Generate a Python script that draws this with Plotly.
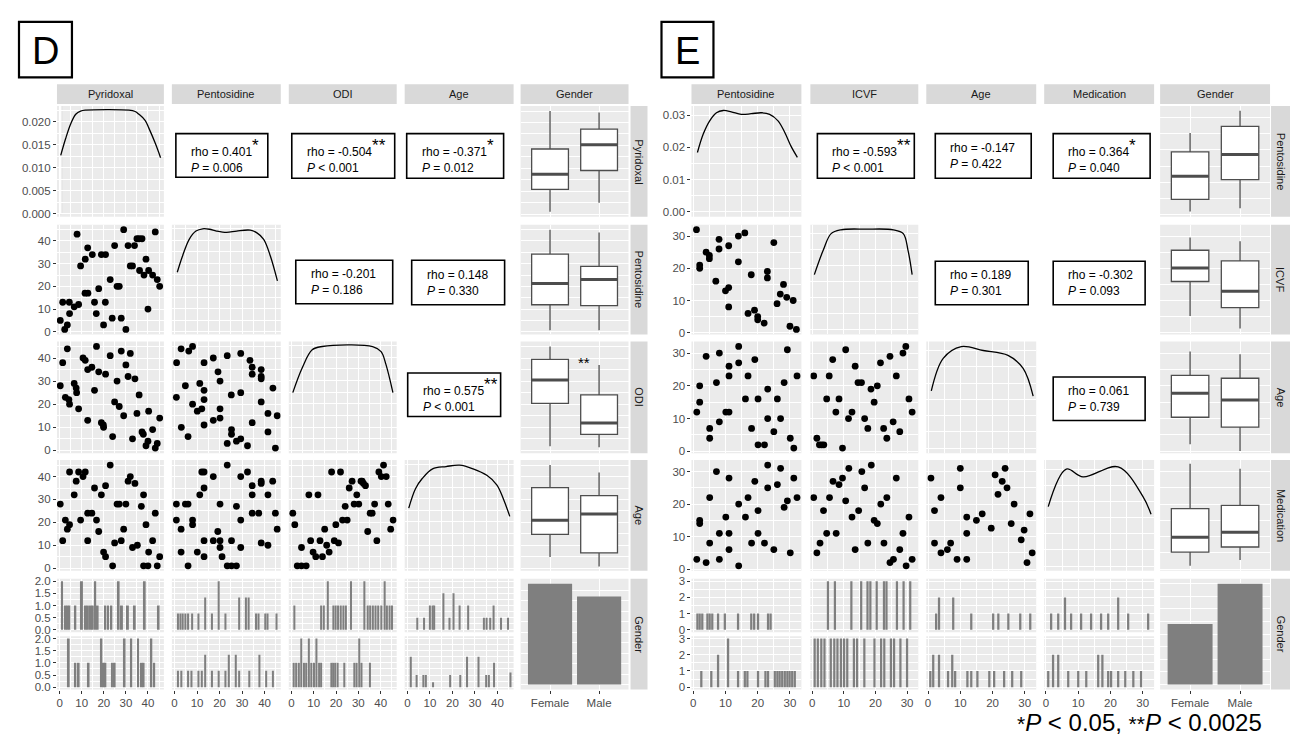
import plotly.graph_objects as go

# ======================= DATA =======================
genders = ["Female", "Male"]
d_vars = ["Pyridoxal", "Pentosidine", "ODI", "Age", "Gender"]
e_vars = ["Pentosidine", "ICVF", "Age", "Medication", "Gender"]

# ---- Panel D scatter data (ranks) ----
d_pyr_pent_x = [0.3,1.4,2.3,3.5,4.4,4.5,6.6,7.9,8.6,9.5,11.6,12.7,11.5,12.8,14.8,15.8,16.6,17.7,18.9,19.9,20.8,20.7,22.9,23.8,24.9,26,27,27.9,29,30,31,32,33,33.9,35,36,37.3,36.2,38.2,39.1,40,40.3,42.1,43.3,44.2,45.3]
d_pyr_pent_y = [5,13,1,3,13,8,11,43,12,29,32,37,17,17,34,13,8,19,34,3,34,13,23,6,38,20,20,6,45,1,38,29,29,38,41,41,41,27,25,32,10,27,25,44,23,20]
d_pyr_odi_x = [0.3,1.4,2.6,3.5,4.2,4.5,6.6,7.5,7.7,8.6,10.6,11.6,12.7,12.7,14.6,15.8,16.7,17.7,18.9,19.8,19.9,20.8,22.9,24,24.9,26,27,27.9,29,30,31,32,33,34.1,35,36,37.3,37.9,39.1,40,40.3,42.1,43.3,44.2,45.3]
d_pyr_odi_y = [28,38,23,44,22,20,29,27,25,18,40,39,35,13,36,26,45,34,12,11,10,33,41,6,21,30,19,43,15,37,32,42,5,31,16,24,8,7,2,4,17,9,1,3,14]
d_pyr_age_x = [0.3,1.4,2.6,3.5,4.5,4.5,6.6,7.5,8.6,9.5,10.6,11.6,12.7,12.7,14.6,15.8,16.7,17.7,18.9,19.9,20.8,20.8,22.9,24,24.9,26,27,27.9,29,30,31,32,33,34.1,35.2,37,38,39.1,40.3,38,40,42.1,43.3,44.2,45.3]
d_pyr_age_y = [28,12,21,17,19,42,32,38,42,21,40,42,24,12,24,35,21,16,32,7,5,36,45,1,11,28,28,12,17,28,38,40,9,37,10,27,32,19,7,1,1,12,24,1,5]
d_pent_odi_x = [0.8,0.9,2.9,6.3,8.0,3.0,4.8,6.0,8.0,10.1,11.2,12.1,13.1,13.1,13.1,13.1,17.2,17.2,20.2,20.2,20.2,19.3,23.4,23.4,25.3,25.3,27.5,29.4,25.2,29.4,29.4,32.4,33.5,34.5,34.5,34.5,38.5,38.5,38.5,38.5,41.5,41.5,43.7,44.8,45.6]
d_pent_odi_y = [23,38,44,43,45,10,28,6,20,17,29,18,22,26,38,11,13,40,14,18,30,34,41,3,9,7,4,5,24,25,42,2,39,12,36,33,35,32,31,21,8,16,27,1,15]
d_pent_age_x = [0.8,0.8,2.9,2.9,4.8,6.0,6.0,8.0,8.0,10.1,11.2,12.1,13.1,13.1,13.1,13.1,17.2,17.2,19.2,20.2,20.2,20.2,21.1,23.4,23.4,25.3,27.5,25.3,27.5,29.4,29.4,29.4,32.4,34.5,34.5,34.5,37.4,38.5,38.5,38.5,41.5,41.5,43.6,44.8,45.6]
d_pent_age_y = [28,21,17,7,28,28,1,21,19,7,32,42,42,35,12,5,40,12,16,28,12,9,5,45,1,12,1,1,27,40,21,9,42,36,32,24,24,38,37,11,32,10,38,24,17]
d_odi_age_x = [0.6,1.5,4.5,2.6,4.5,6.6,8.6,9.7,10.9,12.8,13.9,14.9,15.8,16.9,18,19.2,19.9,21.1,22,22.9,24.1,25,25.9,27.2,28.1,29.3,30.2,31.2,32.3,33.2,34.2,35.3,36.2,37.3,38.3,39.2,40.3,41.3,42.5,43.4,44.5,45.6,7.8,11.9,31.7]
d_odi_age_y = [24,19,9,1,1,1,12,7,5,12,5,17,10,7,42,12,19,11,42,21,27,21,35,38,28,32,28,38,37,36,16,24,24,28,12,42,40,45,40,28,17,21,32,32,38]

# ---- Panel D densities (diagonal) ----
d_dens_pyr_x = [0.5,2.7,5.0,7.3,9.5,11.8,31.4,34.2,35.9,38.7,40.4,43.4,45.7]
d_dens_pyr_y = [0.0127,0.0163,0.0195,0.0216,0.0223,0.0225,0.0225,0.0222,0.0216,0.0203,0.0186,0.0152,0.0122]
d_dens_pent_x = [1.2,3.5,6.5,9.5,12.5,15.5,18.6,23.1,27.6,33.6,36.6,39.6,42.6,45.7]
d_dens_pent_y = [0.0130,0.0165,0.0202,0.0220,0.0225,0.0224,0.0220,0.0217,0.0220,0.0222,0.0216,0.0202,0.0165,0.0111]
d_dens_odi_x = [0.6,4.8,9.3,13.8,36.4,40.2,42.4,45.5]
d_dens_odi_y = [0.0124,0.0177,0.0216,0.0223,0.0223,0.0212,0.0184,0.0124]
d_dens_age_x = [0.6,3.6,6.6,11.2,17.2,23.2,29.2,35.3,39.8,42.8,45.5]
d_dens_age_y = [0.0130,0.0172,0.0194,0.0215,0.0220,0.0223,0.0215,0.0201,0.0180,0.0148,0.0112]

# ---- Panel D box stats by gender: [lower, q1, median, q3, upper] ----
d_box_pyr = [[1, 10.8, 17.4, 28.4, 45], [4.9, 19, 30.3, 37.1, 44.3]]
d_box_pent = [[0.7, 11.9, 21.3, 34.2, 45], [0.7, 11.5, 23, 28.8, 43.7]]
d_box_odi = [[1.8, 20.4, 30.5, 39.4, 45], [1.4, 6.9, 11.9, 24, 37]]
d_box_age = [[4.9, 14.7, 20.9, 35.2, 45], [0.7, 6.7, 23.6, 31.7, 41.8]]
d_gender_counts = [24, 21]

# ---- Panel D histograms (per gender) ----
d_hist_pyr_f_x = [1.1,2.6,3.5,4.4,7.1,10.1,11.6,12.8,13.9,15,16.1,17.2,20.7,21.9,23.4,26.7,28.2,30.9,34,38.5,44.8]
d_hist_pyr_f_n = [2,1,1,1,1,2,1,1,1,1,2,1,1,1,1,2,1,1,1,2,1]
d_hist_pyr_m_x = [4.1,7.1,8.6,13.1,18.9,19.9,20.7,23.7,24.9,29.4,32.4,35.5,37,38,41.5,42.8]
d_hist_pyr_m_n = [2,1,1,1,2,1,1,1,1,2,2,2,1,1,2,1]
d_hist_pent_f_x = [1.5,2.6,3.6,4.8,6,7.8,10.6,13.6,16.6,19.6,22.6,28.7,31.7,32.9,36.2,37.3,40.3,41.3,45.3]
d_hist_pent_f_n = [0.67,0.67,0.67,0.67,0.67,0.67,0.67,1.33,0.67,2,0.67,1.33,1.33,1.33,0.67,0.67,0.67,0.67,0.67]
d_hist_pent_m_x = [1.5,3,6,7.5,10.6,12.1,13.6,16.6,19.6,22.6,24.1,27.2,28.7,33.2,37.7,40.7,43.7]
d_hist_pent_m_n = [0.67,0.67,0.67,0.67,0.67,0.67,1.33,0.67,0.67,0.67,1.33,1.33,0.67,0.67,1.33,0.67,0.67]
d_hist_odi_f_x = [1.3,13.3,14.5,16.3,18.8,19.8,20.9,22.1,23.3,24.4,26.7,32.7,34.2,35.3,36.5,37.7,38.9,40.3,41.8,42.8,44,45.1]
d_hist_odi_f_n = [1,1,1,2,1,1,1,1,1,1,2,2,1,1,1,1,1,1,2,1,1,1]
d_hist_odi_m_x = [1.0,2.1,3.3,4.4,5.6,6.6,7.8,8.9,10.1,11.2,12.4,13.3,17.9,18.7,19.6,20.7,23.7,28.2,29.2,30.4,31.4,35.2]
d_hist_odi_m_n = [1,1,1,2,1,1,2,1,1,2,1,1,1,1,1,1,1,1,1,2,1,1]
d_hist_age_f_x = [4.4,7.4,10,11.2,11.9,16,18.7,20.5,23.2,27,34,35.2,36.8,38.3,41.6,44.7]
d_hist_age_f_n = [0.5,0.5,1,1,1,1.5,0.5,1.5,1,1,0.5,0.5,0.5,1,0.5,0.5]
d_hist_age_m_x = [1.5,4.1,7.1,8.2,11.4,19,23.5,26.5,31.6,35,36.2,38.5,45.8]
d_hist_age_m_n = [1.25,0.5,0.5,0.5,0.2,0.5,0.5,1.25,1.25,0.5,0.5,1,0.6]

# ---- Panel E scatter data (ranks) ----
e_pent_icvf_x = [1,2,2,4,5,5,8,8,11,14,16,14,25,7,10,11,11,17,18,19,20,20,22,23,23,26,27,28,29,31,30,32]
e_pent_icvf_y = [32,21,20,25,24,23,29,26,27,30,31,22,28,16,13,14,8,6,18,7,5,4,3,19,17,9,12,15,11,10,2,1]
e_pent_age_x = [1.1,2,2,4,5.1,5.1,7.2,8.1,8.1,10.1,11.1,11.1,11.1,14.1,14.1,16.2,17,18.1,19.1,20.1,20.1,22.1,23.1,23.1,25,26.1,27.1,28.2,29.2,30.1,31.2,32.2]
e_pent_age_y = [12,15,20,29,7,4,21,9,30,12,12,23,26,32,27,16,23,7,28,16,2,2,19,10,6,16,10,21,31,4,1,23]
e_icvf_age_x = [0.5,1.5,2.3,3,3.7,4.6,5.4,6.5,7.5,8.5,9.6,10.6,11.5,12.6,13.6,14.5,15.6,16.6,17.6,18.6,19.6,20.6,21.6,22.6,23.6,24.6,25.6,26.6,27.7,28.7,29.6,30.6,31.6]
e_icvf_age_y = [23,4,2,2,2,16,23,28,12,16,1,31,10,12,26,21,21,10,7,19,15,20,27,7,4,29,9,23,6,30,32,16,12]
e_pent_med_x = [1.1,2,2,4,5.1,5.1,7.2,8.1,8.1,10.1,11.1,11.1,11.1,14.1,14.1,16.2,17,18.1,19.1,20.1,20.1,22.1,23.1,23.1,25,26.1,27.1,28.2,29.2,30.1,31.2,32.2]
e_pent_med_y = [3,15,14,2,22,8,30,11,3,16,28,11,6,20,1,16,22,8,27,18,11,8,32,25,6,26,31,19,21,5,28,22]
e_icvf_med_x = [0.5,1.5,2.5,3.6,4.6,5.5,6.6,7.6,8.5,9.6,10.6,11.6,12.6,13.6,14.7,15.7,16.6,17.6,18.7,19.6,20.6,21.7,22.7,23.6,24.6,25.7,26.6,27.7,28.7,29.7,30.6,31.6]
e_icvf_med_y = [22,5,8,18,11,22,27,11,26,28,21,31,16,6,18,30,25,8,32,15,14,20,8,22,2,3,28,6,11,1,16,3]
e_age_med_x = [0.9,2,2,4,4,6,7,9,10,10,12,12,12,15,16.8,19.6,20.8,21.7,23,23.9,24.5,25.8,26.7,28.9,29.8,30.7,31.6,32.3]
e_age_med_y = [28,18,8,22,5,6,8,3,31,25,16,11,3,15,17,12.6,29,23,27,31,25,14,20,9,12,2,17,5]

# ---- Panel E densities ----
e_dens_pent_x = [1.3,3.1,5.1,7.2,9.3,11.8,14.9,18.0,21.1,23.7,26.3,28.4,30.4,32.3]
e_dens_pent_y = [0.0184,0.0241,0.0282,0.0307,0.0314,0.0310,0.0302,0.0304,0.0307,0.0302,0.0282,0.0246,0.0202,0.0169]
e_dens_icvf_x = [0.7,3.5,6.0,9.1,17,25.7,28.8,30.3,31.6]
e_dens_icvf_y = [0.0172,0.0248,0.0300,0.0312,0.0314,0.0312,0.0300,0.0248,0.0172]
e_dens_age_x = [1.0,4.7,10.3,17.1,24.8,29.5,32.6]
e_dens_age_y = [0.0176,0.0276,0.0312,0.0300,0.0285,0.0245,0.0160]
e_dens_med_x = [0.7,6.3,11.5,22.4,30.1,32.6]
e_dens_med_y = [0.0184,0.0300,0.0276,0.0307,0.0215,0.0160]

# ---- Panel E box stats ----
e_box_pent = [[1.1, 4.8, 11.9, 19.4, 25.2], [2.1, 10.9, 18.6, 27.3, 32.1]]
e_box_icvf = [[5.2, 15.9, 20.1, 25.6, 29.6], [1.3, 7.8, 12.9, 22.3, 28.4]]
e_box_age = [[2.2, 10.4, 17.7, 23.2, 30.5], [0.1, 7.4, 15.7, 22.3, 29.6]]
e_box_med = [[1.0, 5.2, 9.8, 18.6, 32.4], [2.8, 6.8, 11.3, 19.6, 30.9]]
e_gender_counts = [12, 20]

# ---- Panel E histograms ----
e_hist_pent_f_x = [1.3,2.0,2.8,4.4,5.1,5.9,7.7,9.8,13.9,18.0,18.9,20.1,23.2,24.0]
e_hist_pent_f_n = [1,1,1,1,1,1,1,1,1,1,1,1,1,1]
e_hist_pent_m_x = [2.5,5.6,7.7,10.8,13.9,16,16.8,20.1,22.4,23.2,25.3,26.1,26.8,27.6,28.4,29.2,29.9,30.7,31.5]
e_hist_pent_m_n = [1,1,2,3,1,1,1,1,1,1,1,1,1,1,1,1,1,1,1]
e_hist_icvf_f_x = [5.0,7.2,12.4,15.5,17.5,18.4,20.4,22.7,23.5,26.8,28.9,31.0]
e_hist_icvf_f_n = [3,3,3,3,3,3,3,3,3,3,3,3]
e_hist_icvf_m_x = [0.8,1.8,2.9,3.9,5.9,7.0,8.0,9.1,10.1,11.1,13.2,14.2,16.5,19.7,21.8,22.8,24.9,25.9,27.9,30.0]
e_hist_icvf_m_n = [3,3,3,3,3,3,3,3,3,3,3,3,3,3,3,3,3,3,3,3]
e_hist_age_f_x = [2.5,3.4,7.8,13.4,20.2,21.8,24.9,28.6,31.7]
e_hist_age_f_n = [1,2,2,1,1,1,1,1,1]
e_hist_age_m_x = [0.7,1.6,3.4,6.2,7.5,8.4,12.2,13.4,15.3,19.0,20.5,23.6,26.1,28.9]
e_hist_age_m_n = [1,2,2,1,2,1,1,1,1,1,1,1,1,1]
e_hist_med_f_x = [1.6,3.8,5.9,7.8,10.9,14.0,17.1,19.3,22.4,25.5,31.7]
e_hist_med_f_n = [1,1,2,1,1,1,1,1,2,1,1]
e_hist_med_m_x = [0.7,2.2,3.8,6.9,10.0,12.5,16.2,17.5,19.3,20.2,22.4,24.6,27.1,29.5]
e_hist_med_m_n = [1,2,2,1,1,1,2,2,1,1,1,1,1,1]

# ---- correlation texts ----
d_rho = ["0.401", "-0.504", "-0.371", "-0.201", "0.148", "0.575"]
d_star = ["*", "**", "*", "", "", "**"]
d_p = ["= 0.006", "&lt; 0.001", "= 0.012", "= 0.186", "= 0.330", "&lt; 0.001"]
e_rho = ["-0.593", "-0.147", "0.364", "0.189", "-0.302", "0.061"]
e_star = ["**", "", "*", "", "", ""]
e_p = ["&lt; 0.001", "= 0.422", "= 0.040", "= 0.301", "= 0.093", "= 0.739"]

# ======================= LAYOUT HELPERS =======================
W, H = 1299, 737
FONT = "Liberation Sans, Arial, Helvetica, sans-serif"
PANEL_BG = "#EBEBEB"
STRIP_BG = "#D9D9D9"
TICK_COL = "#4D4D4D"
BAR_COL = "#7F7F7F"

fig = go.Figure()
axes = {}
shapes = []
annos = []
counter = [0]


def X(p):
    return p / W


def Y(p):
    return 1 - p / H


def make_axis(domain, rng, maj, mnr, show, labels, anchor, grey):
    d = dict(domain=domain, range=rng, anchor=anchor, showline=False, zeroline=False,
             fixedrange=True, tickmode="array", tickvals=maj if maj is not None else [],
             showgrid=bool(grey and maj is not None), gridcolor="white", gridwidth=1.3)
    if mnr is not None and grey:
        d["minor"] = dict(tickmode="array", tickvals=mnr, showgrid=True, gridcolor="white",
                          gridwidth=0.6, ticks="")
    if show:
        d.update(showticklabels=True, ticks="outside", ticklen=3, tickwidth=1,
                 tickcolor="#333333", tickfont=dict(family=FONT, size=11.5, color=TICK_COL))
        if labels is not None:
            d["ticktext"] = labels
    else:
        d.update(showticklabels=False, ticks="")
    return d


def panel(xp, yp, xr, yr, grey=True, xmaj=None, xmin=None, ymaj=None, ymin=None,
          showx=False, showy=False, xlab=None, ylab=None):
    counter[0] += 1
    n = counter[0]
    s = "" if n == 1 else str(n)
    axes["xaxis" + s] = make_axis([X(xp[0]), X(xp[1])], xr, xmaj, xmin, showx, xlab, "y" + s, grey)
    axes["yaxis" + s] = make_axis([Y(yp[1]), Y(yp[0])], yr, ymaj, ymin, showy, ylab, "x" + s, grey)
    if grey:
        shapes.append(dict(type="rect", xref="x" + s + " domain", yref="y" + s + " domain",
                           x0=0, x1=1, y0=0, y1=1, fillcolor=PANEL_BG, line_width=0, layer="below"))
    else:
        shapes.append(dict(type="rect", xref="x" + s + " domain", yref="y" + s + " domain",
                           x0=0, x1=1, y0=0, y1=1, fillcolor="white",
                           line=dict(color="#E6E6E6", width=1), layer="below"))
    return "x" + s, "y" + s


def add_points(ax, x, y):
    fig.add_trace(go.Scatter(x=x, y=y, mode="markers", xaxis=ax[0], yaxis=ax[1],
                             marker=dict(size=6.8, color="black"), hoverinfo="skip"))


def add_density(ax, x, y):
    fig.add_trace(go.Scatter(x=x, y=y, mode="lines", xaxis=ax[0], yaxis=ax[1],
                             line=dict(color="black", width=1.3, shape="spline", smoothing=1.0),
                             hoverinfo="skip"))


def add_boxes(ax, stats):
    pos = [1, 2]
    fig.add_trace(go.Box(x=pos, lowerfence=[s[0] for s in stats], q1=[s[1] for s in stats],
                         median=[s[2] for s in stats], q3=[s[3] for s in stats],
                         upperfence=[s[4] for s in stats], width=0.75, whiskerwidth=0,
                         fillcolor="white", line=dict(color="#4D4D4D", width=1.3),
                         xaxis=ax[0], yaxis=ax[1], hoverinfo="skip", boxpoints=False))
    for p, s in zip(pos, stats):
        fig.add_trace(go.Scatter(x=[p - 0.37, p + 0.37], y=[s[2], s[2]], mode="lines",
                                 line=dict(color="#4D4D4D", width=3), xaxis=ax[0], yaxis=ax[1],
                                 hoverinfo="skip"))


def add_hist(ax, x, n, bw):
    fig.add_trace(go.Bar(x=x, y=n, width=bw, marker=dict(color=BAR_COL, line_width=0),
                         xaxis=ax[0], yaxis=ax[1], hoverinfo="skip"))


def strip_top(x0, x1, text):
    shapes.append(dict(type="rect", xref="paper", yref="paper", x0=X(x0), x1=X(x1), y0=Y(93), y1=Y(73),
                       fillcolor=STRIP_BG, line_width=0, layer="below"))
    annos.append(dict(x=X((x0 + x1) / 2), y=Y(83), xref="paper", yref="paper", text=text, showarrow=False,
                      font=dict(family=FONT, size=11, color="#1A1A1A"), xanchor="center", yanchor="middle"))


def strip_right(x0, x1, y0, y1, text):
    shapes.append(dict(type="rect", xref="paper", yref="paper", x0=X(x0), x1=X(x1), y0=Y(y1), y1=Y(y0),
                       fillcolor=STRIP_BG, line_width=0, layer="below"))
    annos.append(dict(x=X((x0 + x1) / 2), y=Y((y0 + y1) / 2), xref="paper", yref="paper", text=text,
                      showarrow=False, textangle=90, font=dict(family=FONT, size=11, color="#1A1A1A"),
                      xanchor="center", yanchor="middle"))


def text_box(bx, by, rho, star, p):
    shapes.append(dict(type="rect", xref="paper", yref="paper", x0=X(bx[0]), x1=X(bx[1]), y0=Y(by[1]),
                       y1=Y(by[0]), fillcolor="rgba(0,0,0,0)", line=dict(color="black", width=1.6)))
    star_txt = "<sup><span style='font-size:17px'>" + star + "</span></sup>" if star else ""
    annos.append(dict(x=X(bx[0] + 13), y=Y((by[0] + by[1]) / 2), xref="paper", yref="paper",
                      text="rho = " + rho + star_txt + "<br><i>P</i> " + p, showarrow=False, align="left",
                      xanchor="left", yanchor="middle", font=dict(family=FONT, size=12, color="black")))


def build(cols, rows, subrows, rstrip, vars_, xr, xmaj, xmin, xlab,
          dyr, dymaj, dymin, dylab, hyr, hymaj, hymin, hylab, byr, bymaj, bymin,
          scat, dens, boxes, hists, counts, boxes_txt, rho, star, pv, bw):
    for c in range(5):
        strip_top(cols[c][0], cols[c][1], vars_[c])
    for r in range(5):
        strip_right(rstrip[0], rstrip[1], rows[r][0], rows[r][1], vars_[r])
    for i in range(4):
        first = (i == 0)
        ax = panel(cols[i], rows[i], xr, dyr, True, xmaj, xmin, dymaj, dymin,
                   showy=first, ylab=dylab if first else None)
        add_density(ax, dens[i][0], dens[i][1])
    for (r, c, xs, ys) in scat:
        ax = panel(cols[c], rows[r], xr, xr, True, xmaj, xmin, xmaj, xmin,
                   showy=(c == 0), ylab=xlab if c == 0 else None)
        add_points(ax, xs, ys)
    k = 0
    for r in range(4):
        for c in range(r + 1, 4):
            panel(cols[c], rows[r], [0, 1], [0, 1], grey=False)
            bx, by = boxes_txt[k]
            text_box(bx, by, rho[k], star[k], pv[k])
            k += 1
    for r in range(4):
        ax = panel(cols[4], rows[r], [0.4, 2.6], xr, True, [1, 2], None, xmaj, xmin)
        add_boxes(ax, boxes[r])
    for c in range(4):
        for g in range(2):
            ax = panel(cols[c], subrows[g], xr, hyr, True, xmaj, xmin, hymaj, hymin,
                       showx=(g == 1), showy=(c == 0), xlab=xlab if g == 1 else None,
                       ylab=hylab if c == 0 else None)
            add_hist(ax, hists[c][g][0], hists[c][g][1], bw)
    ax = panel(cols[4], rows[4], [0.4, 2.6], byr, True, [1, 2], None, bymaj, bymin,
               showx=True, xlab=genders)
    fig.add_trace(go.Bar(x=[1, 2], y=counts, width=0.9, marker=dict(color=BAR_COL, line_width=0),
                         xaxis=ax[0], yaxis=ax[1], hoverinfo="skip"))


rows_px = [(95, 207), (215, 326), (333, 446), (453, 565), (573, 685)]
sub_px = [(573, 627), (631, 685)]

# ---------------- D ----------------
d_cols = [(48, 155), (163, 272), (280, 388), (396, 505), (512, 620)]
build(d_cols, rows_px, sub_px, (622, 639), d_vars,
      [-1.2, 47.2], [0, 10, 20, 30, 40], [5, 15, 25, 35, 45], ["0", "10", "20", "30", "40"],
      [-0.0006, 0.0234], [0, 0.005, 0.01, 0.015, 0.02], [0.0025, 0.0075, 0.0125, 0.0175, 0.0225],
      ["0.000", "0.005", "0.010", "0.015", "0.020"],
      [-0.1, 2.1], [0, 0.5, 1, 1.5, 2], [0.25, 0.75, 1.25, 1.75], ["0.0", "0.5", "1.0", "1.5", "2.0"],
      [-1.2, 25.2], [0, 5, 10, 15, 20, 25], [2.5, 7.5, 12.5, 17.5, 22.5],
      [(1, 0, d_pyr_pent_x, d_pyr_pent_y), (2, 0, d_pyr_odi_x, d_pyr_odi_y), (3, 0, d_pyr_age_x, d_pyr_age_y),
       (2, 1, d_pent_odi_x, d_pent_odi_y), (3, 1, d_pent_age_x, d_pent_age_y), (3, 2, d_odi_age_x, d_odi_age_y)],
      [(d_dens_pyr_x, d_dens_pyr_y), (d_dens_pent_x, d_dens_pent_y), (d_dens_odi_x, d_dens_odi_y),
       (d_dens_age_x, d_dens_age_y)],
      [d_box_pyr, d_box_pent, d_box_odi, d_box_age],
      [[(d_hist_pyr_f_x, d_hist_pyr_f_n), (d_hist_pyr_m_x, d_hist_pyr_m_n)],
       [(d_hist_pent_f_x, d_hist_pent_f_n), (d_hist_pent_m_x, d_hist_pent_m_n)],
       [(d_hist_odi_f_x, d_hist_odi_f_n), (d_hist_odi_m_x, d_hist_odi_m_n)],
       [(d_hist_age_f_x, d_hist_age_f_n), (d_hist_age_m_x, d_hist_age_m_n)]],
      d_gender_counts,
      [((167, 259), (123, 167)), ((283, 386), (123, 168)), ((398, 495), (123, 168)),
       ((287, 384), (251, 295)), ((403, 496), (251, 296)), ((399, 492), (365, 409))],
      d_rho, d_star, d_p, 0.9)

# ---------------- E ----------------
e_cols = [(683, 793), (802, 910), (918, 1028), (1036, 1146), (1152, 1262)]
build(e_cols, rows_px, sub_px, (1263, 1282), e_vars,
      [-0.55, 33.55], [0, 10, 20, 30], [5, 15, 25], ["0", "10", "20", "30"],
      [-0.0015, 0.0328], [0, 0.01, 0.02, 0.03], [0.005, 0.015, 0.025], ["0.00", "0.01", "0.02", "0.03"],
      [-0.15, 3.15], [0, 1, 2, 3], [0.5, 1.5, 2.5], ["0", "1", "2", "3"],
      [-1, 21], [0, 5, 10, 15, 20], [2.5, 7.5, 12.5, 17.5],
      [(1, 0, e_pent_icvf_x, e_pent_icvf_y), (2, 0, e_pent_age_x, e_pent_age_y), (3, 0, e_pent_med_x, e_pent_med_y),
       (2, 1, e_icvf_age_x, e_icvf_age_y), (3, 1, e_icvf_med_x, e_icvf_med_y), (3, 2, e_age_med_x, e_age_med_y)],
      [(e_dens_pent_x, e_dens_pent_y), (e_dens_icvf_x, e_dens_icvf_y), (e_dens_age_x, e_dens_age_y),
       (e_dens_med_x, e_dens_med_y)],
      [e_box_pent, e_box_icvf, e_box_age, e_box_med],
      [[(e_hist_pent_f_x, e_hist_pent_f_n), (e_hist_pent_m_x, e_hist_pent_m_n)],
       [(e_hist_icvf_f_x, e_hist_icvf_f_n), (e_hist_icvf_m_x, e_hist_icvf_m_n)],
       [(e_hist_age_f_x, e_hist_age_f_n), (e_hist_age_m_x, e_hist_age_m_n)],
       [(e_hist_med_f_x, e_hist_med_f_n), (e_hist_med_m_x, e_hist_med_m_n)]],
      e_gender_counts,
      [((809, 906), (123, 168)), ((927, 1023), (123, 168)), ((1045, 1142), (123, 168)),
       ((927, 1020), (252, 296)), ((1045, 1137), (252, 296)), ((1045, 1137), (369, 413))],
      e_rho, e_star, e_p, 0.7)

# ODI gender significance mark
annos.append(dict(x=X(575), y=Y(354), xref="paper", yref="paper", text="**", showarrow=False,
                  font=dict(family=FONT, size=15, color="black"), xanchor="center", yanchor="middle"))

# panel letters
for (x0, x1, letter) in [(10, 63, "D"), (653, 705, "E")]:
    shapes.append(dict(type="rect", xref="paper", yref="paper", x0=X(x0), x1=X(x1), y0=Y(66), y1=Y(10),
                       line=dict(color="black", width=2.2), fillcolor="white"))
    annos.append(dict(x=X((x0 + x1) / 2), y=Y(39), xref="paper", yref="paper", text=letter, showarrow=False,
                      font=dict(family=FONT, size=38, color="black"), xanchor="center", yanchor="middle"))

# significance legend
annos.append(dict(x=X(1256), y=Y(718), xref="paper", yref="paper",
                  text="<span style='font-size:21px'>*</span><i>P</i> &lt; 0.05, "
                       "<span style='font-size:21px'>**</span><i>P</i> &lt; 0.0025",
                  showarrow=False,
                  font=dict(family=FONT, size=24, color="black"), xanchor="right", yanchor="middle"))

fig.update_layout(**axes)
fig.update_layout(shapes=shapes, annotations=annos, width=W, height=H,
                  margin=dict(l=0, r=0, t=0, b=0), plot_bgcolor="white", paper_bgcolor="white",
                  showlegend=False, barmode="overlay", boxmode="overlay")
fig.write_html("out.html")
